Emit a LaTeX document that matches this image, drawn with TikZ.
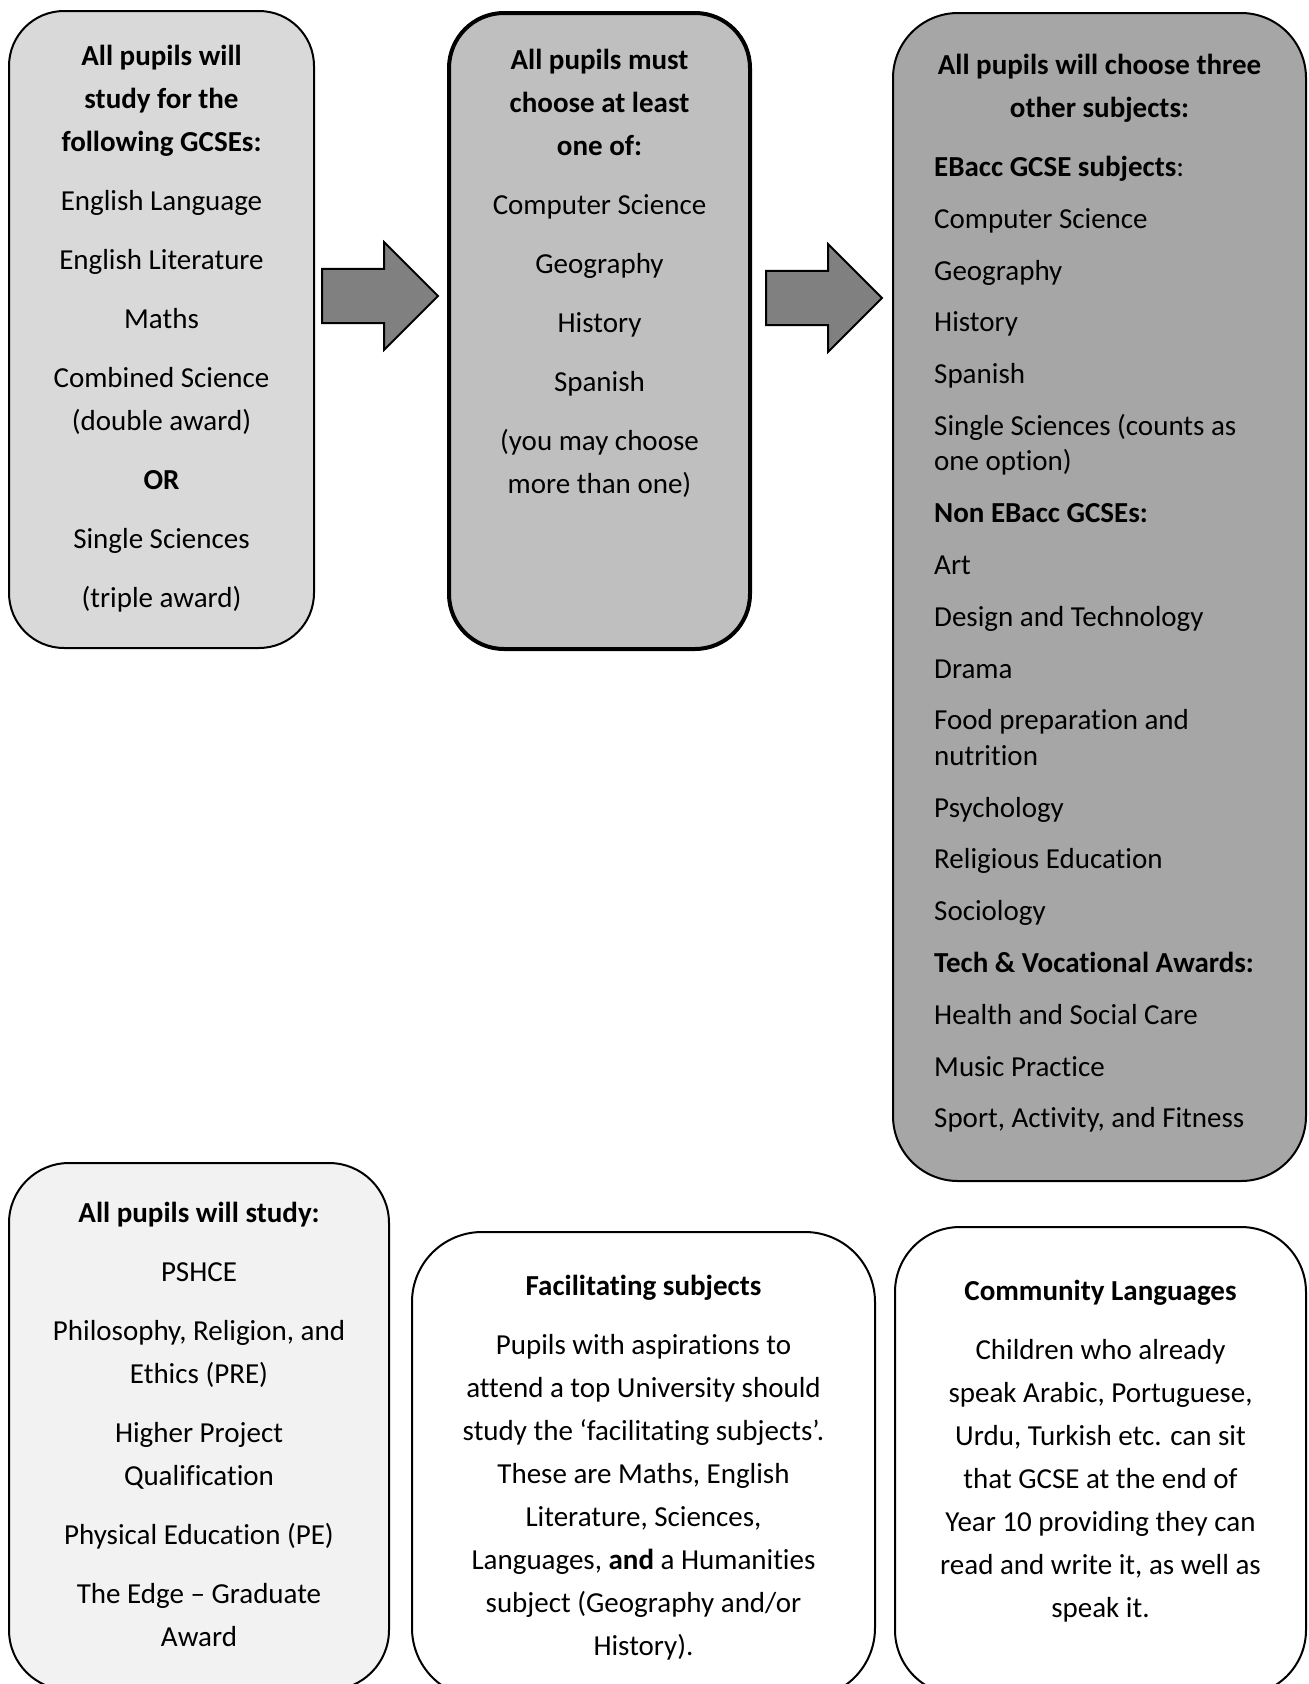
\documentclass[tikz,border=0pt]{standalone}
\usepackage{fontspec}
\setmainfont{Carlito}[Ligatures=NoCommon]
\usepackage{tikz}
\usetikzlibrary{shapes.arrows, positioning}

\definecolor{coregrey}{HTML}{D9D9D9}
\definecolor{mustgrey}{HTML}{BFBFBF}
\definecolor{choosegrey}{HTML}{A6A6A6}
\definecolor{studygrey}{HTML}{F2F2F2}
\definecolor{arrowgrey}{HTML}{808080}

\tikzset{
    panel/.style={draw, line width=2pt, rounded corners=55pt, inner sep=0pt, outer sep=0pt},
    blockarrow/.style={single arrow, draw, line width=2pt, fill=arrowgrey, inner xsep=0pt, inner ysep=26.2pt,
        minimum height=116pt, single arrow head extend=26.6pt, outer sep=0pt, anchor=tail},
    blurb/.style={align=center, inner sep=0pt, font=\fontsize{29}{43}\selectfont},
    listing/.style={align=left, inner sep=0pt, font=\fontsize{29}{35.4}\selectfont}
}

\begin{document}
\begin{tikzpicture}[x=1pt, y=-1pt]
    \useasboundingbox (0,0) rectangle (1309,1684);

    % Top row
    \node[panel, fill=coregrey, minimum width=305pt, minimum height=637pt] (core) at (161.5,329.5) {};
    \node[panel, fill=mustgrey, line width=4pt, minimum width=301pt, minimum height=636pt] (must) at (599.5,331) {};
    \node[panel, fill=choosegrey, rounded corners=65pt, minimum width=413pt, minimum height=1168pt] (choose) at (1099.5,597) {};

    % Arrows
    \node[blockarrow] (toMust) at (322,296) {};
    \node[blockarrow] (toChoose) at (766,298) {};

    % Bottom row
    \node[panel, fill=studygrey, rounded corners=60pt, minimum width=380pt, minimum height=527pt] (study) at (199,1426.5) {};
    \node[panel, fill=white, rounded corners=70pt, minimum width=463pt, minimum height=466pt] (facilitate) at (643.5,1465) {};
    \node[panel, fill=white, rounded corners=65pt, minimum width=411pt, minimum height=468pt] (community) at (1100.5,1461) {};

    % Texts
    \node[blurb, below=34pt of core.north] (coreText) {%
        \textbf{All pupils will}\\ \textbf{study for the}\\ \textbf{following GCSEs:}\\[16pt]
        English Language\\[16pt] English Literature\\[16pt] Maths\\[16pt]
        Combined Science\\ (double award)\\[16pt] \textbf{OR}\\[16pt]
        Single Sciences\\[16pt] (triple award)};
    \node[blurb, below=36pt of must.north] (mustText) {%
        \textbf{All pupils must}\\ \textbf{choose at least}\\ \textbf{one of:}\\[16pt]
        Computer Science\\[16pt] Geography\\[16pt] History\\[16pt] Spanish\\[16pt]
        (you may choose\\ more than one)};
    \node[blurb, below=41pt of choose.north] (chooseHead) {%
        \textbf{All pupils will choose three}\\ \textbf{other subjects:}};
    \node[listing, anchor=north west, below right=143pt and 41pt of choose.north west] (chooseList) {%
        \textbf{EBacc GCSE subjects}:\\[16.4pt]
        Computer Science\\[16.4pt] Geography\\[16.4pt] History\\[16.4pt] Spanish\\[16.4pt]
        Single Sciences (counts as\\ one option)\\[16.4pt]
        \textbf{Non EBacc GCSEs:}\\[16.4pt]
        Art\\[16.4pt] Design and Technology\\[16.4pt] Drama\\[16.4pt]
        Food preparation and\\ nutrition\\[16.4pt]
        Psychology\\[16.4pt] Religious Education\\[16.4pt] Sociology\\[16.4pt]
        \textbf{Tech \& Vocational Awards:}\\[16.4pt]
        Health and Social Care\\[16.4pt] Music Practice\\[16.4pt] Sport, Activity, and Fitness};
    \node[blurb, below=39pt of study.north] (studyText) {%
        \textbf{All pupils will study:}\\[16pt]
        PSHCE\\[16pt] Philosophy, Religion, and\\ Ethics (PRE)\\[16pt]
        Higher Project\\ Qualification\\[16pt] Physical Education (PE)\\[16pt]
        The Edge – Graduate\\ Award};
    \node[blurb, below=43pt of facilitate.north] (facilitateText) {%
        \textbf{Facilitating subjects}\\[16pt]
        Pupils with aspirations to\\ attend a top University should\\
        study the ‘facilitating subjects’.\\ These are Maths, English\\
        Literature, Sciences,\\ Languages, \textbf{and} a Humanities\\
        subject (Geography and/or\\ History).};
    \node[blurb, below=53pt of community.north] (communityText) {%
        \textbf{Community Languages}\\[16pt]
        Children who already\\ speak Arabic, Portuguese,\\
        Urdu, Turkish etc. can sit\\ that GCSE at the end of\\
        Year 10 providing they can\\ read and write it, as well as\\ speak it.};
\end{tikzpicture}
\end{document}
